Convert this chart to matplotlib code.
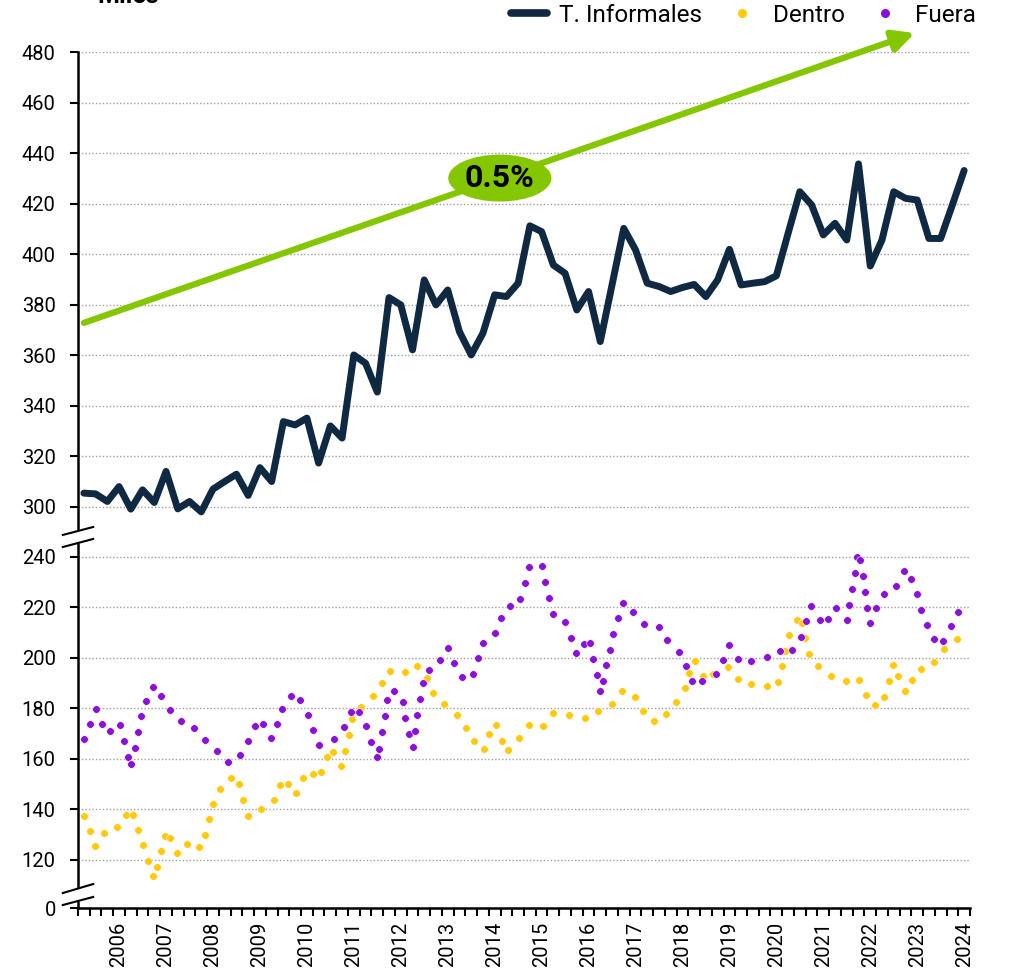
import matplotlib.pyplot as plt
import numpy as np
from matplotlib.lines import Line2D

plt.rcParams['font.family'] = ['Roboto', 'DejaVu Sans']

# trimestres móviles, primer dato = 2005T2
informales = [305.4, 305.1, 302.1, 308.0, 297.2, 306.7, 301.7, 314.0, 297.5, 302.1,
              293.9, 307.0, 310.0, 312.9, 304.5, 315.5, 310.0, 333.7, 332.4, 335.1,
              317.3, 332.0, 327.2, 360.1, 356.8, 345.4, 382.8, 379.9, 362.1, 389.8,
              379.9, 385.8, 369.3, 360.1, 368.7, 383.9, 383.2, 388.5, 411.2, 408.9,
              395.7, 392.4, 377.9, 385.2, 365.4, 387.8, 410.2, 401.7, 388.5, 387.2,
              385.2, 386.8, 388.0, 383.2, 389.8, 401.9, 387.8, 388.5, 389.1, 391.4,
              408.2, 424.7, 419.5, 407.6, 412.2, 405.6, 435.7, 395.3, 405.6, 424.7,
              422.1, 421.4, 406.2, 406.2, 419.5, 433.1]
first_quarter = 2005.25

dentro_t = [2005.25, 2005.37, 2005.49, 2005.67, 2005.96, 2006.15, 2006.30, 2006.40, 2006.51, 2006.62,
            2006.72, 2006.81, 2006.89, 2006.97, 2007.08, 2007.23, 2007.44, 2007.71, 2007.82, 2007.92,
            2008.00, 2008.16, 2008.39, 2008.55, 2008.65, 2008.75, 2009.02, 2009.29, 2009.42, 2009.59,
            2009.77, 2009.92, 2010.12, 2010.31, 2010.42, 2010.56, 2010.73, 2010.81, 2010.89, 2010.96,
            2011.15, 2011.41, 2011.61, 2011.78, 2012.08, 2012.34, 2012.56, 2012.69, 2012.93, 2013.19,
            2013.38, 2013.57, 2013.77, 2013.89, 2014.02, 2014.15, 2014.29, 2014.52, 2014.73, 2015.03,
            2015.24, 2015.58, 2015.92, 2016.21, 2016.51, 2016.71, 2016.98, 2017.15, 2017.39, 2017.64,
            2017.87, 2018.05, 2018.15, 2018.27, 2018.44, 2018.66, 2018.96, 2019.18, 2019.47, 2019.81,
            2020.03, 2020.11, 2020.19, 2020.28, 2020.43, 2020.54, 2020.62, 2020.70, 2020.88, 2021.16,
            2021.48, 2021.77, 2021.91, 2022.11, 2022.30, 2022.40, 2022.48, 2022.60, 2022.73, 2022.88,
            2023.09, 2023.36, 2023.58, 2023.85]
dentro = [137.5, 131.4, 125.7, 130.8, 133.2, 138.0, 138.0, 131.8, 125.8, 119.7,
          113.6, 117.1, 123.4, 129.6, 128.7, 122.9, 126.3, 125.0, 129.9, 136.1,
          142.1, 148.0, 152.5, 149.9, 143.7, 137.5, 140.0, 143.9, 149.7, 150.1,
          146.7, 152.5, 153.9, 154.9, 160.9, 162.9, 157.4, 163.2, 169.5, 175.7,
          180.7, 184.9, 190.1, 194.7, 194.6, 196.6, 192.0, 186.1, 181.7, 177.5,
          172.2, 167.0, 163.8, 169.7, 173.3, 167.2, 163.6, 168.4, 173.4, 173.0,
          178.2, 177.5, 176.3, 179.1, 181.6, 186.8, 184.5, 178.9, 174.9, 177.6,
          182.5, 188.0, 193.9, 198.7, 192.9, 193.8, 196.4, 191.8, 189.7, 188.9,
          190.4, 196.7, 202.9, 209.1, 214.9, 213.9, 207.9, 201.7, 196.6, 192.8,
          190.8, 191.2, 185.4, 181.2, 184.7, 190.8, 197.1, 192.8, 186.7, 191.3,
          195.7, 198.4, 203.4, 207.5]

fuera_t = [2005.25, 2005.37, 2005.50, 2005.64, 2005.81, 2006.01, 2006.10, 2006.18, 2006.26, 2006.33,
           2006.40, 2006.46, 2006.57, 2006.72, 2006.90, 2007.08, 2007.32, 2007.60, 2007.84, 2008.08,
           2008.31, 2008.58, 2008.74, 2008.90, 2009.07, 2009.24, 2009.36, 2009.48, 2009.67, 2009.85,
           2010.02, 2010.14, 2010.26, 2010.57, 2010.80, 2010.93, 2011.10, 2011.27, 2011.37, 2011.49,
           2011.54, 2011.60, 2011.66, 2011.71, 2011.86, 2012.04, 2012.10, 2012.18, 2012.25, 2012.30,
           2012.35, 2012.40, 2012.47, 2012.60, 2012.84, 2013.01, 2013.14, 2013.30, 2013.54, 2013.64,
           2013.75, 2014.01, 2014.14, 2014.32, 2014.54, 2014.64, 2014.73, 2015.01, 2015.08, 2015.16,
           2015.24, 2015.50, 2015.62, 2015.73, 2015.90, 2016.03, 2016.09, 2016.17, 2016.24, 2016.31,
           2016.38, 2016.45, 2016.53, 2016.63, 2016.73, 2016.95, 2017.19, 2017.51, 2017.68, 2017.93,
           2018.08, 2018.20, 2018.41, 2018.71, 2018.86, 2019.00, 2019.18, 2019.47, 2019.80, 2020.07,
           2020.34, 2020.52, 2020.64, 2020.74, 2020.92, 2021.09, 2021.27, 2021.50, 2021.55, 2021.61,
           2021.67, 2021.72, 2021.78, 2021.84, 2021.89, 2021.94, 2022.00, 2022.13, 2022.29, 2022.55,
           2022.71, 2022.86, 2023.00, 2023.09, 2023.20, 2023.36, 2023.56, 2023.72, 2023.87]
fuera = [167.9, 173.9, 179.6, 173.8, 171.1, 173.3, 167.1, 160.8, 157.9, 164.2,
         170.5, 176.8, 182.8, 188.6, 184.9, 179.3, 175.0, 172.4, 167.6, 163.0,
         158.9, 161.4, 167.2, 172.9, 173.7, 168.2, 173.7, 179.7, 185.0, 183.2,
         177.5, 171.4, 165.5, 167.9, 172.5, 178.4, 178.6, 173.0, 166.8, 160.7,
         164.1, 170.5, 176.8, 183.2, 187.0, 182.6, 176.3, 170.0, 164.7, 171.1,
         177.4, 183.7, 190.0, 195.1, 199.2, 203.8, 197.9, 192.6, 193.7, 199.9,
         205.8, 209.9, 215.8, 220.4, 223.4, 229.7, 235.9, 236.2, 230.0, 223.7,
         217.4, 214.1, 207.9, 201.8, 205.4, 205.7, 199.5, 193.3, 187.0, 190.8,
         197.0, 203.3, 209.5, 215.7, 221.8, 218.0, 213.6, 212.4, 207.0, 202.2,
         196.8, 190.7, 190.9, 193.6, 199.2, 205.0, 199.7, 198.8, 200.5, 202.6,
         203.2, 208.3, 214.5, 220.4, 215.0, 215.4, 219.6, 214.9, 221.1, 227.4,
         233.7, 240.1, 238.8, 232.5, 226.2, 219.9, 213.9, 219.9, 225.3, 228.6,
         234.2, 231.1, 225.3, 219.1, 212.9, 207.5, 206.8, 212.5, 218.3]

years = list(range(2006, 2025))
yticks = [0, 120, 140, 160, 180, 200, 220, 240, 300, 320, 340, 360, 380, 400, 420, 440, 460, 480]

NAVY = '#0f2942'
YELLOW = '#ffc90e'
PURPLE = '#8a12d6'
GREEN = '#84c600'

# eje con cortes: 0-110 comprimido, hueco 240-300
brk_val = np.array([-1200, 0, 110, 120, 240, 300, 480, 1480])
brk_pos = np.array([-9.5, 0, 0.45, 0.95, 6.95, 7.94, 16.94, 66.94])


def forward(v):
    return np.interp(v, brk_val, brk_pos)


def inverse(p):
    return np.interp(p, brk_pos, brk_val)


fig = plt.figure(figsize=(10.2, 9.71), dpi=100)
ax = fig.add_axes([78 / 1020, 63 / 971, 892 / 1020, 856 / 971])
ax.set_yscale('function', functions=(forward, inverse))

x_line = first_quarter + 0.25 * np.arange(len(informales))
ax.scatter(dentro_t, dentro, s=30, color=YELLOW, edgecolors='white', linewidths=0.4, zorder=3)
ax.scatter(fuera_t, fuera, s=30, color=PURPLE, edgecolors='white', linewidths=0.4, zorder=3)
ax.plot(x_line, informales, color=NAVY, lw=5, solid_joinstyle='round', solid_capstyle='round', zorder=4)

ax.set_xlim(first_quarter - 0.125, x_line[-1] + 0.125)
ax.set_ylim(0, 480)

ax.set_yticks(yticks)
ax.set_yticklabels([str(v) for v in yticks])
ax.yaxis.set_minor_locator(plt.NullLocator())
ax.set_xticks(years)
ax.set_xticklabels([str(y) for y in years], rotation=90)
ax.set_xticks(np.arange(len(informales) + 1) * 0.25 + first_quarter - 0.125, minor=True)
ax.tick_params(axis='x', which='major', length=0, pad=10, labelsize=14.5)
ax.tick_params(axis='x', which='minor', length=6, width=1.5, direction='out')
ax.tick_params(axis='y', length=6, width=1.5, pad=10, labelsize=14.5)

ax.yaxis.grid(True, linestyle=(0, (1, 1.5)), color='#a0a0a0', lw=1)
ax.set_axisbelow(True)
for side in ['top', 'right']:
    ax.spines[side].set_visible(False)
for side in ['left', 'bottom']:
    ax.spines[side].set_linewidth(1.8)

# marcas de corte en el eje y (en fracción de ejes)
for lo, hi in [((0.0035, 0.0129), (0.0175, 0.0280)), ((0.4217, 0.4311), (0.4358, 0.4451))]:
    ax.fill([-0.004, 0.004, 0.004, -0.004],
            [lo[0] + (lo[1] - lo[0]) * 0.38, lo[0] + (lo[1] - lo[0]) * 0.62,
             hi[0] + (hi[1] - hi[0]) * 0.62, hi[0] + (hi[1] - hi[0]) * 0.38],
            transform=ax.transAxes, color='white', clip_on=False, zorder=5)
    for a, b in [lo, hi]:
        ax.plot([-0.017, 0.017], [a, b], transform=ax.transAxes, color='black', lw=1.5,
                clip_on=False, zorder=6)

# tendencia
ax.annotate('', xy=(2022.95, 487.5), xytext=(2005.25, 372.8),
            arrowprops=dict(arrowstyle='-|>', lw=4.5, color=GREEN, mutation_scale=32,
                            shrinkA=0, shrinkB=0),
            annotation_clip=False, zorder=2)
ax.text(2014.11, 430.1, '0.5%', ha='center', va='center', fontsize=23, fontweight='bold',
        bbox=dict(boxstyle='ellipse,pad=0.05', fc=GREEN, ec='none'), zorder=5)

fig.text(97 / 1020, 1 - 3 / 971, 'Miles', fontsize=18, fontweight='bold', va='baseline')

handles = [Line2D([], [], color=NAVY, lw=5.5, solid_capstyle='round'),
           Line2D([], [], marker='o', ls='', color=YELLOW, markersize=5.5),
           Line2D([], [], marker='o', ls='', color=PURPLE, markersize=5.5)]
ax.legend(handles, ['T. Informales', 'Dentro', 'Fuera'], loc='center right',
          bbox_to_anchor=(976 / 1020, 1 - 15 / 971), bbox_transform=fig.transFigure,
          ncol=3, frameon=False, fontsize=17.5, borderaxespad=0, borderpad=0,
          handlelength=1.5, handletextpad=0.5, columnspacing=0.9)

fig.savefig('out.png', dpi=100)
